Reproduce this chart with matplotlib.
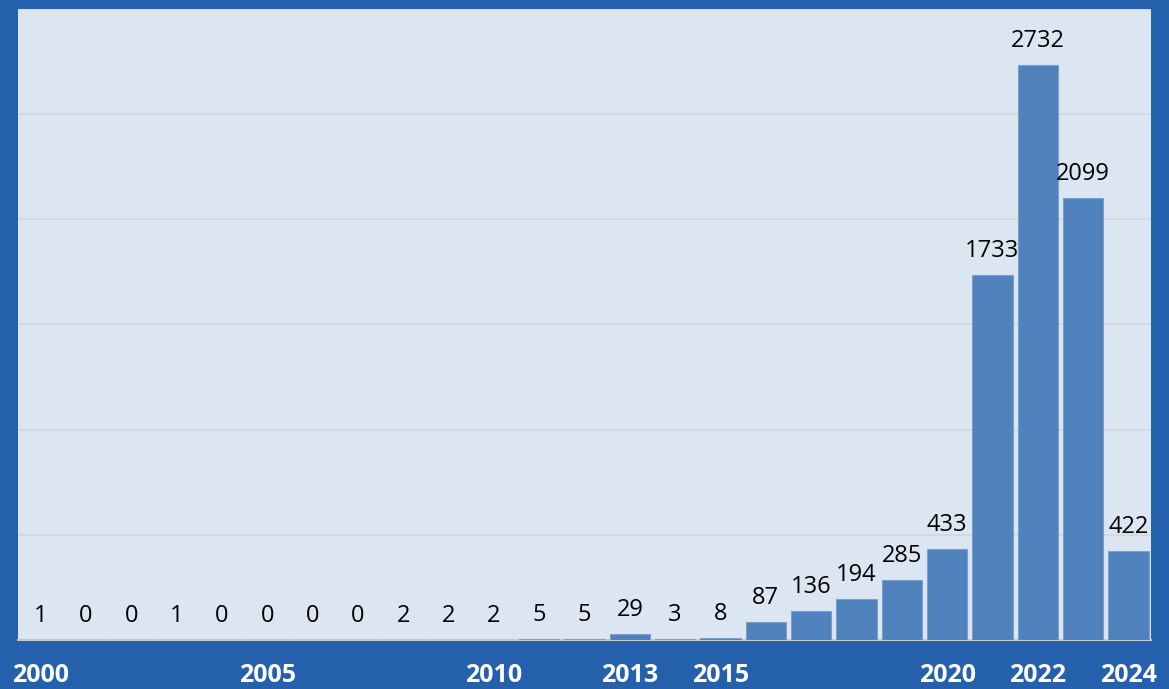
import matplotlib
matplotlib.use("Agg")
import matplotlib.pyplot as plt
import numpy as np

years = list(range(2000, 2025))
counts = [1, 0, 0, 1, 0, 0, 0, 0, 2, 2, 2, 5, 5, 29, 3, 8, 87, 136, 194, 285, 433, 1733, 2732, 2099, 422]
shown_ticks = [2000, 2005, 2010, 2013, 2015, 2020, 2022, 2024]

plt.rcParams['font.family'] = ['Open Sans', 'DejaVu Sans']

fig = plt.figure(figsize=(11.69, 6.89), dpi=100)
fig.patch.set_facecolor('#2460AB')
ax = fig.add_axes([18/1169, 1 - 640/689, (1151 - 18)/1169, (640 - 8.5)/689])
ax.set_facecolor('#DCE6F2')

x = np.arange(len(years))
ax.bar(x, counts, width=0.89, color='#4F81BD', edgecolor='#7BA0CF', linewidth=0.8, zorder=3)
ax.set_xlim(-0.5, len(years) - 0.5)
ax.set_ylim(0, 3000)
ax.set_yticks(np.arange(0, 3001, 500))
ax.yaxis.grid(True, color='#D6D6D6', linewidth=1.2, zorder=0)
ax.tick_params(axis='y', left=False, labelleft=False)
ax.tick_params(axis='x', bottom=False)
for s in ['left', 'right', 'top']:
    ax.spines[s].set_visible(False)
ax.spines['bottom'].set_color('#C8C8C8')
ax.spines['bottom'].set_linewidth(1.5)

ax.set_xticks([years.index(y) for y in shown_ticks])
ax.set_xticklabels([str(y) for y in shown_ticks], fontsize=18, fontweight='bold', color='white')
ax.tick_params(axis='x', pad=13)

for xi, v in zip(x, counts):
    ax.annotate(str(v), (xi, v), xytext=(0, 13), textcoords='offset points',
                ha='center', va='baseline', fontsize=17, color='black', zorder=4)

fig.savefig('out.png', dpi=100, facecolor=fig.get_facecolor())
